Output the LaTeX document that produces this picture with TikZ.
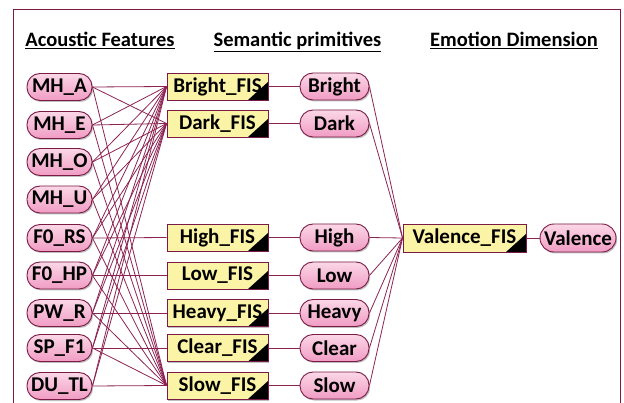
\documentclass[tikz,border=0pt]{standalone}
\usepackage{fontspec}
\setmainfont{Carlito}
\usetikzlibrary{shadows}
\definecolor{edgec}{HTML}{8C2352}
\definecolor{bord}{HTML}{7A1A45}
\definecolor{pinktop}{HTML}{FBD7E7}
\definecolor{pinkbot}{HTML}{F09CC3}
\definecolor{yel}{HTML}{FBF3A6}
\tikzset{
  shad/.style={drop shadow={shadow xshift=1.2pt, shadow yshift=-1.5pt, fill=black, opacity=0.25}},
  pill/.style={draw=bord, line width=0.9pt, rounded corners=13pt, top color=pinktop, bottom color=pinkbot,
    minimum height=27pt, inner sep=1pt, font=\fontsize{21}{21}\selectfont\bfseries, shad},
  feat/.style={pill, minimum width=65pt},
  prim/.style={pill, minimum width=69pt},
  fis/.style={draw=bord, line width=0.9pt, fill=yel, minimum width=101pt, minimum height=27pt, inner sep=1pt,
    font=\fontsize{21}{21}\selectfont\bfseries, shad,
    path picture={\fill[black] (path picture bounding box.south east) -- ++(-20pt,0pt) -- ++(20pt,18pt) -- cycle;}},
  head/.style={font=\fontsize{20.5}{20.5}\selectfont\bfseries, anchor=base, inner sep=0pt},
  conn/.style={draw=edgec, line width=0.8pt},
}
\begin{document}
\begin{tikzpicture}[x=1pt,y=-1pt]
\useasboundingbox (0,0) rectangle (624,403);
\draw[bord, line width=0.9pt] (13,9) rectangle (620,430);
% headers
\node[head] (h1) at (100,47) {\underline{Acoustic Features}};
\node[head] (h2) at (297.5,47) {\underline{Semantic primitives}};
\node[head] (h3) at (514,47) {\underline{Emotion Dimension}};
% features
\node[feat] (mha) at (59.5,87) {MH\_A};
\node[feat] (mhe) at (59.5,125) {MH\_E};
\node[feat] (mho) at (59.5,162) {MH\_O};
\node[feat] (mhu) at (59.5,199.5) {MH\_U};
\node[feat] (f0rs) at (59.5,238) {F0\_RS};
\node[feat] (f0hp) at (59.5,275.5) {F0\_HP};
\node[feat] (pwr) at (59.5,313) {PW\_R};
\node[feat] (spf) at (59.5,348) {SP\_F1};
\node[feat] (dutl) at (59.5,386) {DU\_TL};
% FIS
\node[fis] (bf) at (217.5,86.5) {Bright\_FIS};
\node[fis] (df) at (217.5,123.5) {Dark\_FIS};
\node[fis] (hf) at (217.5,237.5) {High\_FIS};
\node[fis] (lf) at (217.5,275.5) {Low\_FIS};
\node[fis] (hvf) at (217.5,313) {Heavy\_FIS};
\node[fis] (cf) at (217.5,348) {Clear\_FIS};
\node[fis] (sf) at (217.5,385.5) {Slow\_FIS};
% primitives
\node[prim] (bp) at (334.5,86.5) {Bright};
\node[prim] (dp) at (334.5,123.5) {Dark};
\node[prim] (hp) at (334.5,237.5) {High};
\node[prim] (lp) at (334.5,275.5) {Low};
\node[prim] (hvp) at (334.5,313) {Heavy};
\node[prim] (cp) at (334.5,348) {Clear};
\node[prim] (sp) at (334.5,385.5) {Slow};
% valence
\node[fis, minimum width=123pt, minimum height=28pt] (vf) at (464.5,238) {Valence\_FIS};
\node[pill, minimum width=76pt, minimum height=28pt, rounded corners=14pt] (vp) at (578,238) {Valence};
% connectors
\foreach \f in {mha,mhe,mho,mhu,f0rs,f0hp,pwr,spf,dutl}{
  \draw[conn] (\f.east) -- (bf.west);
  \draw[conn] (\f.east) -- (df.west);
  \draw[conn] (\f.east) -- (sf.west);
}
\draw[conn] (f0rs.east) -- (hf.west);
\draw[conn] (f0hp.east) -- (lf.west);
\draw[conn] (pwr.east) -- (hvf.west);
\draw[conn] (spf.east) -- (cf.west);
\foreach \a/\b in {bf/bp,df/dp,hf/hp,lf/lp,hvf/hvp,cf/cp,sf/sp}{
  \draw[conn] (\a.east) -- (\b.west);
  \draw[conn] (\b.east) -- (vf.west);
}
\draw[conn] (vf.east) -- (vp.west);
\end{tikzpicture}
\end{document}
